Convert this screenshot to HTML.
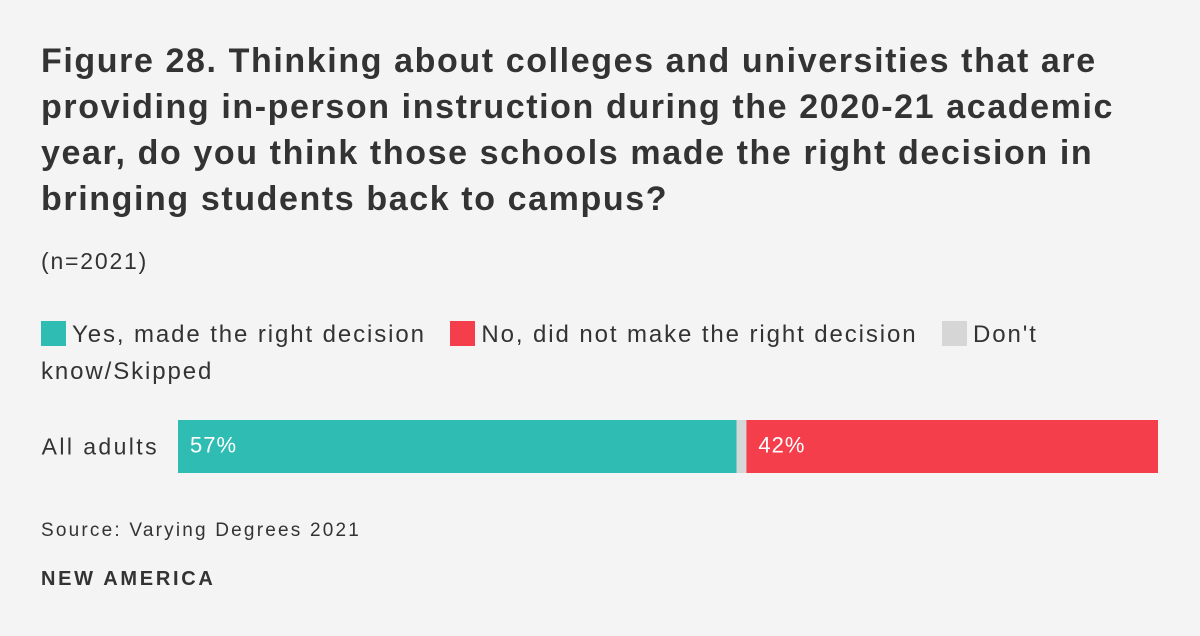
<!DOCTYPE html>
<html><head><meta charset="utf-8"><style>
body{margin:0;background:#f4f4f4;font-family:"Liberation Sans",sans-serif;color:#333;}
#wrap{position:relative;width:1200px;height:636px;overflow:hidden;}
h1{position:absolute;left:41px;top:38px;width:1150px;margin:0;font-size:34px;line-height:46px;font-weight:bold;color:#333;letter-spacing:1.6px;white-space:nowrap;}
.n{position:absolute;left:41px;top:248px;font-size:23px;color:#333;letter-spacing:1.8px;}
.legend{position:absolute;left:41px;top:316px;width:1100px;font-size:24px;line-height:37px;color:#333;letter-spacing:1.9px;white-space:nowrap;}
.sw{display:inline-block;width:25px;height:25px;vertical-align:-4px;margin-right:6px;}
.li{margin-right:16px;}
.src{position:absolute;left:41px;top:520px;font-size:19px;color:#333;letter-spacing:2.2px;}
.brand{position:absolute;left:41px;top:568px;font-size:20px;font-weight:bold;color:#333;letter-spacing:2.7px;}
</style></head><body>
<div id="wrap">
<h1>Figure 28. Thinking about colleges and universities that are<br>providing in-person instruction during the 2020-21 academic<br>year, do you think those schools made the right decision in<br>bringing students back to campus?</h1>
<div class="n">(n=2021)</div>
<div class="legend">
<span class="li"><span class="sw" style="background:#2ebcb3"></span>Yes, made the right decision</span>
<span class="li"><span class="sw" style="background:#f43e4c"></span>No, did not make the right decision</span>
<span><span class="sw" style="background:#d6d6d6"></span>Don't<br>know/Skipped</span>
</div>
<svg id="svg" width="1200" height="636" style="position:absolute;left:0;top:0"></svg>
<div class="src">Source: Varying Degrees 2021</div>
<div class="brand">NEW AMERICA</div>
</div>
<script>
const categories=["All adults"];
const yesValues=[57];
const dontKnowValues=[1];
const noValues=[42];
const svg=document.getElementById('svg');
const NS="http://www.w3.org/2000/svg";
const x0=178,W=980,y0=420,H=53;
function xs(v){return v/100*W;}
categories.forEach((c,i)=>{
  const y=y0+i*70;
  const lab=document.createElementNS(NS,'text');
  
  
  lab.setAttribute('x',159);lab.setAttribute('y',y+H/2+8);
  lab.setAttribute('text-anchor','end');lab.setAttribute('font-size','23');lab.setAttribute('fill','#333');
  lab.setAttribute('letter-spacing','2.4');
  lab.setAttribute('font-family','Liberation Sans, sans-serif');
  lab.textContent=c;svg.appendChild(lab);
  const segs=[[yesValues[i],'#2ebcb3','bar-yes'],[dontKnowValues[i],'#d6d6d6','bar-dont-know'],[noValues[i],'#f43e4c','bar-no']];
  let x=x0;
  segs.forEach(s=>{
    const r=document.createElementNS(NS,'rect');
    
    
    r.setAttribute('x',x);r.setAttribute('y',y);r.setAttribute('width',xs(s[0]));r.setAttribute('height',H);r.setAttribute('fill',s[1]);
    svg.appendChild(r);
    if(s[0]>=5){
      const t=document.createElementNS(NS,'text');
      
      
      t.setAttribute('x',x+12);t.setAttribute('y',y+H/2+6);
      t.setAttribute('font-size','22');t.setAttribute('fill','#fff');
      t.setAttribute('letter-spacing','1');
      t.setAttribute('font-family','Liberation Sans, sans-serif');
      t.textContent=s[0]+'%';svg.appendChild(t);
    }
    x+=xs(s[0]);
  });
});
</script>
</body></html>
